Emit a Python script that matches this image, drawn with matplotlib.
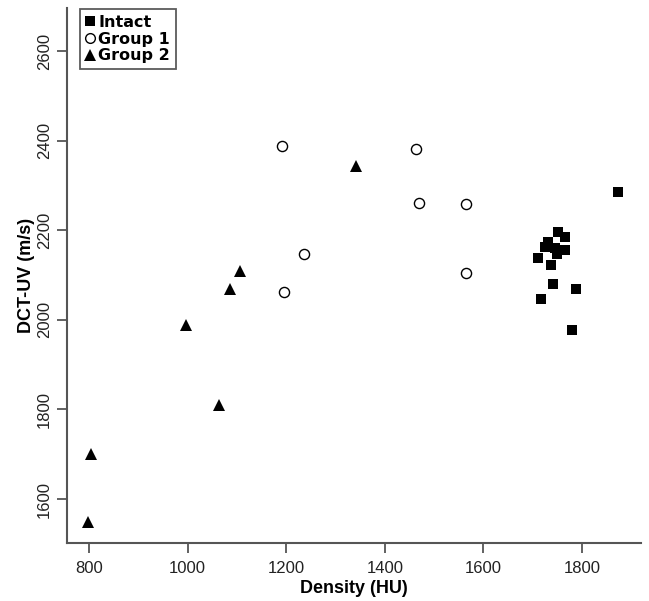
import matplotlib
matplotlib.use("Agg")
import matplotlib.pyplot as plt
from matplotlib.lines import Line2D

# Data
intact_x = [1751, 1766, 1732, 1725, 1745, 1766, 1749, 1711, 1737, 1742, 1789, 1718, 1779, 1874]
intact_y = [2195, 2185, 2174, 2163, 2160, 2156, 2148, 2137, 2122, 2080, 2069, 2046, 1977, 2285]

group1_x = [1192, 1195, 1237, 1463, 1470, 1565, 1565]
group1_y = [2388, 2063, 2148, 2382, 2260, 2258, 2105]

group2_x = [797, 803, 997, 1063, 1085, 1107, 1342]
group2_y = [1548, 1700, 1988, 1810, 2068, 2110, 2343]

xticks = [800, 1000, 1200, 1400, 1600, 1800]
yticks = [1600, 1800, 2000, 2200, 2400, 2600]
legend_labels = ["Intact", "Group 1", "Group 2"]

fig = plt.figure(figsize=(6.49, 6.01), dpi=100)
ax = fig.add_axes([67/649, 58/601, (641-67)/649, (543-8)/601])

ax.plot(intact_x, intact_y, linestyle="none", marker="s", markersize=7.6,
        color="black", markeredgewidth=0)
ax.plot(group1_x, group1_y, linestyle="none", marker="o", markersize=7.3,
        markerfacecolor="white", markeredgecolor="black", markeredgewidth=1.0)
ax.plot(group2_x, group2_y, linestyle="none", marker="^", markersize=8.8,
        color="black", markeredgewidth=0)

ax.set_xlim(755, 1920)
ax.set_ylim(1502, 2696)
ax.set_xticks(xticks)
ax.set_yticks(yticks)
ax.set_xticklabels([str(t) for t in xticks])
ax.set_yticklabels([str(t) for t in yticks], rotation=90, va="center")

for s in ["top", "right"]:
    ax.spines[s].set_visible(False)
for s in ["left", "bottom"]:
    ax.spines[s].set_color("#555555")
    ax.spines[s].set_linewidth(1.5)

ax.tick_params(direction="out", length=7, width=1.3, color="#555555",
               labelsize=12, labelcolor="#222222")
ax.tick_params(axis="x", pad=6)
ax.tick_params(axis="y", pad=4)
for lab in ax.get_xticklabels() + ax.get_yticklabels():
    lab.set_family("Liberation Sans")

ax.set_xlabel("Density (HU)", fontsize=13, fontweight="bold",
              family="Liberation Sans", labelpad=3)
ax.set_ylabel("DCT-UV (m/s)", fontsize=13, fontweight="bold",
              family="Liberation Sans", labelpad=1)

handles = [
    Line2D([], [], linestyle="none", marker="s", markersize=7, color="black", markeredgewidth=0),
    Line2D([], [], linestyle="none", marker="o", markersize=7, markerfacecolor="white",
           markeredgecolor="black", markeredgewidth=1.0),
    Line2D([], [], linestyle="none", marker="^", markersize=8, color="black", markeredgewidth=0),
]
leg = ax.legend(handles, legend_labels, loc="upper left",
                bbox_to_anchor=((80-67)/574, 1 - (9-8)/535),
                prop={"family": "DejaVu Sans", "weight": "bold", "size": 11.5},
                frameon=True, fancybox=False, handlelength=0.6, handletextpad=0.2,
                labelspacing=0.12, borderpad=0.35, borderaxespad=0)
leg.get_frame().set_edgecolor("#333333")
leg.get_frame().set_linewidth(1.3)

fig.savefig("out.png", dpi=100)
